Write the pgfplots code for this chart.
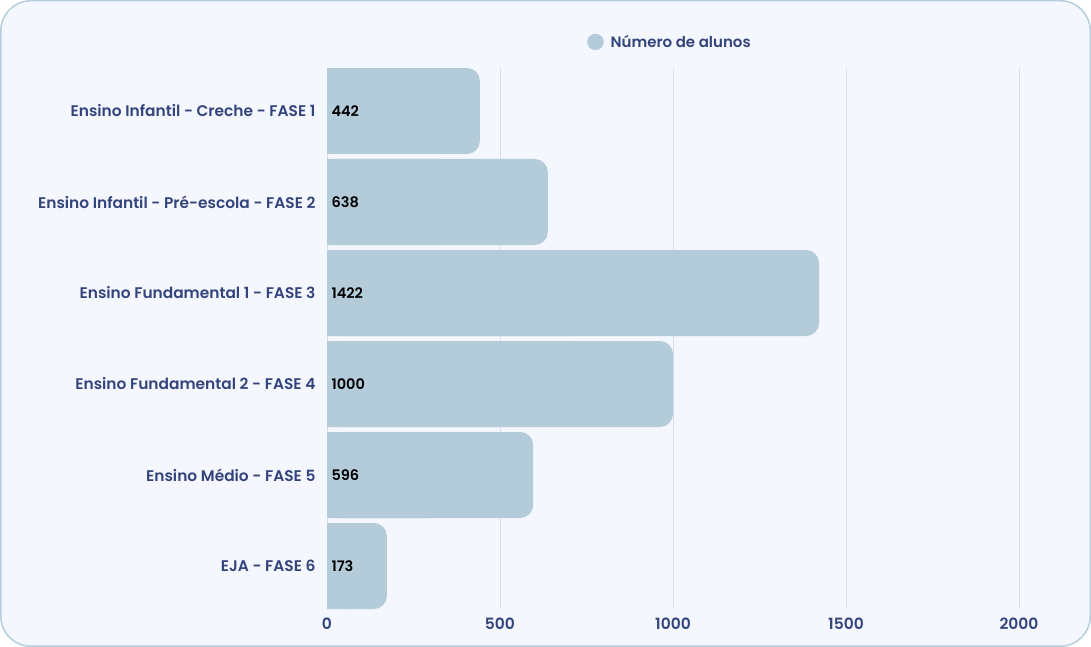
\documentclass[border=0pt]{standalone}
\usepackage{pgfplots}
\pgfplotsset{compat=1.18}
\usepackage{pgfplotstable}
\usepackage{fontspec}
\setmainfont{Poppins}[BoldFont={Poppins SemiBold}]
\definecolor{bg}{HTML}{F5F7FE}
\definecolor{frame}{HTML}{B7CEDD}
\definecolor{barc}{HTML}{B4CBD9}
\definecolor{lab}{HTML}{33447C}
\definecolor{gridc}{HTML}{D9DEEC}

\pgfplotstableread{
idx val
0 442
1 638
2 1422
3 1000
4 596
5 173
}\data

\begin{document}
\begin{tikzpicture}
\fill[bg, draw=frame, line width=1.5pt, rounded corners=30pt] (0.75pt,0.75pt) rectangle (1090.25pt,646.25pt);
\path[use as bounding box] (0pt,0pt) rectangle (1091pt,647pt);
\begin{axis}[
  at={(327pt,38pt)}, anchor=south west, scale only axis,
  width=692pt, height=541pt,
  xmin=0, xmax=2000, ymin=-0.4725, ymax=5.4725, y dir=reverse,
  xtick={0,500,...,2000}, ytick={0,...,5},
  yticklabels={Ensino Infantil - Creche - FASE 1, Ensino Infantil - Pré-escola - FASE 2, Ensino Fundamental 1 - FASE 3, Ensino Fundamental 2 - FASE 4, Ensino Médio - FASE 5, EJA - FASE 6},
  axis line style={draw=none}, tick style={draw=none},
  xmajorgrids, major grid style={gridc, line width=1pt},
  /pgf/number format/assume math mode=true,
  /pgf/number format/1000 sep={},
  yticklabel style={font=\bfseries\fontsize{15.4}{17}\selectfont, text=lab, xshift=-8pt},
  xticklabel style={font=\bfseries\fontsize{15.5}{17}\selectfont, text=lab, yshift=-5pt},
  legend style={draw=none, fill=none, at={(0.5,1)}, anchor=south, yshift=15pt, xshift=-3pt,
    font=\bfseries\fontsize{15}{17}\selectfont, text=lab},
  legend cell align=left,
]
\addlegendimage{legend image code/.code={\fill[barc] (0pt,0pt) circle (8pt); \path (13pt,0pt);}}
\addlegendentry{Número de alunos}
\addplot[xbar, bar width=86pt, bar shift=0pt, fill=barc, draw=none, rounded corners=13pt, forget plot]
  table[x=val, y=idx]{\data};
\addplot[xbar, bar width=86pt, bar shift=0pt, fill=barc, draw=none, forget plot, x filter/.expression={x/2}]
  table[x=val, y=idx]{\data};
\addplot[draw=none, forget plot, point meta=explicit symbolic, nodes near coords,
  nodes near coords style={anchor=west, xshift=1pt, font=\bfseries\fontsize{14.5}{16}\selectfont, text=black}]
  table[x expr=0, y=idx, meta=val]{\data};
\end{axis}
\end{tikzpicture}
\end{document}
